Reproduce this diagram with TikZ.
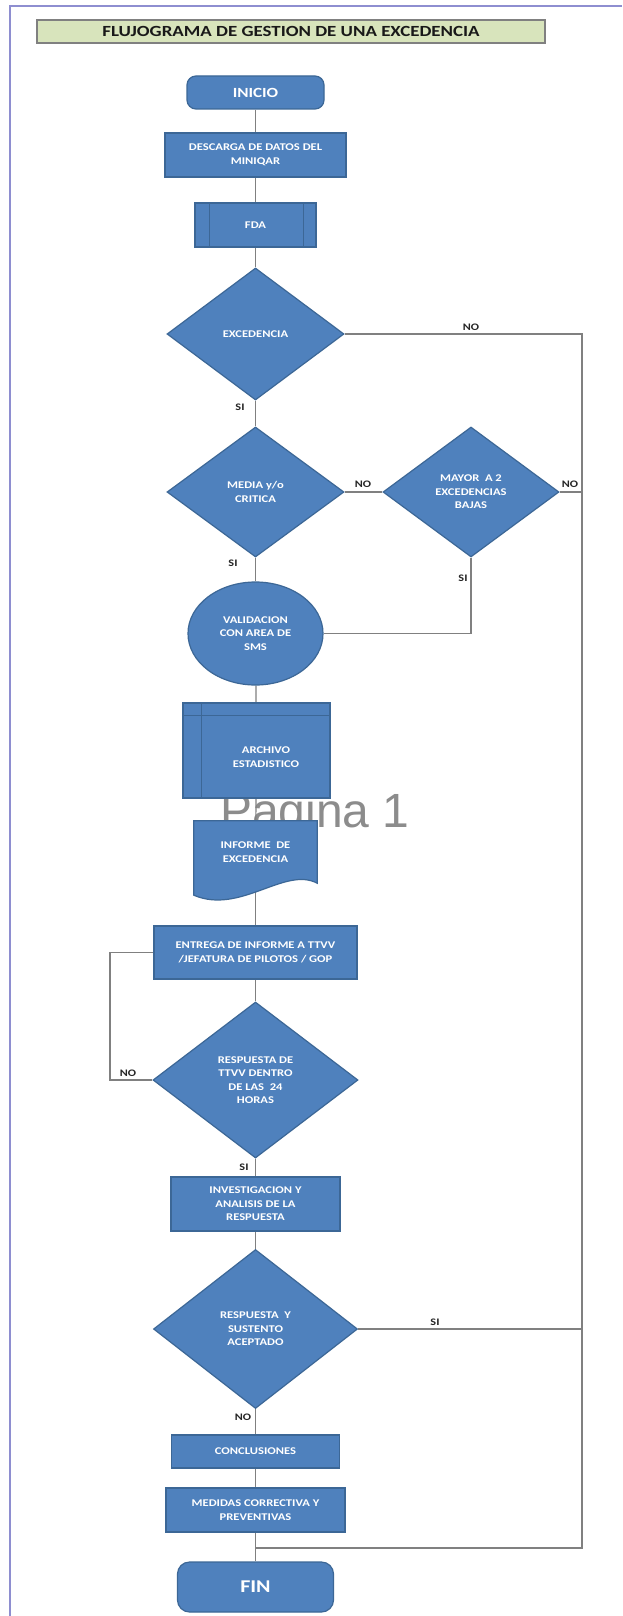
\documentclass[tikz,border=0pt]{standalone}
\usepackage{fontspec}
\setmainfont[FakeStretch=1.22]{Carlito}
\newfontfamily\wmfont{Liberation Sans}
\usetikzlibrary{shapes.geometric}
\pgfdeclarelayer{wm}\pgfdeclarelayer{bg}\pgfdeclarelayer{docl}
\pgfsetlayers{wm,bg,docl,main}
\definecolor{ofblue}{HTML}{4F81BD}
\definecolor{ofedge}{HTML}{3C6796}
\definecolor{titlefill}{HTML}{D8E4BC}
\definecolor{framec}{HTML}{8E8ED0}
\definecolor{conn}{HTML}{808080}
\tikzset{
  shp/.style={draw=ofedge, fill=ofblue, line width=1.2pt, text=white, align=center, inner sep=0pt,
    font=\bfseries\fontsize{10.3}{13.5}\selectfont},
  procbox/.style={shp, rectangle},
  termbox/.style={shp, rectangle, rounded corners=9pt},
  decision/.style={shp, diamond},
  conline/.style={draw=conn, line width=1.2pt},
  lbl/.style={font=\bfseries\fontsize{10}{10}\selectfont, text=black!85, inner sep=0pt},
}
\begin{document}
\begin{tikzpicture}[x=1pt,y=-1pt]
\useasboundingbox (0,0) rectangle (622,1616);
\begin{pgfonlayer}{wm}
\fill[white] (0,0) rectangle (622,1616);
\node[font=\wmfont\fontsize{48}{48}\selectfont, text=black!45, anchor=base west, inner sep=0pt] (pag) at (220,827) {Pagina 1};
\end{pgfonlayer}
% frame
\draw[framec, line width=1.8pt] (10,1616) -- (10,6) -- (622,6);
% title
\node[draw=gray, line width=1.3pt, fill=titlefill, minimum width=508pt, minimum height=23pt, inner sep=0pt,
  font=\bfseries\fontsize{15.5}{15.5}\selectfont, text=black!90] (title) at (291,31.5) {FLUJOGRAMA DE GESTION DE UNA EXCEDENCIA};

% nodes
\node[termbox, minimum width=137pt, minimum height=33pt, font=\bfseries\fontsize{14}{14}\selectfont] (inicio) at (255.5,92.5) {INICIO};
\node[procbox, minimum width=181pt, minimum height=44pt] (descarga) at (255.5,155) {DESCARGA DE DATOS DEL\\MINIQAR};
\node[procbox, minimum width=121pt, minimum height=44pt] (fda) at (255.5,225) {FDA};
\draw[ofedge, line width=1.2pt] ([xshift=15pt]fda.north west) -- ([xshift=15pt]fda.south west);
\draw[ofedge, line width=1.2pt] ([xshift=-13pt]fda.north east) -- ([xshift=-13pt]fda.south east);
\node[decision, minimum width=177pt, minimum height=132pt] (exc) at (255.5,334) {EXCEDENCIA};
\node[decision, minimum width=177pt, minimum height=130pt] (media) at (255.5,492) {MEDIA y/o\\CRITICA};
\node[decision, minimum width=176pt, minimum height=130pt] (mayor) at (471,492) {MAYOR \ A 2\\EXCEDENCIAS\\BAJAS};
\node[shp, ellipse, minimum width=135pt, minimum height=103pt] (valid) at (255.5,633.5) {VALIDACION\\CON AREA DE\\SMS};
\node[procbox, minimum width=147pt, minimum height=95pt] (archivo) at (256.5,750.5) {};
\draw[ofedge, line width=1.2pt] ([xshift=19pt]archivo.north west) -- ([xshift=19pt]archivo.south west);
\draw[ofedge, line width=1.2pt] ([yshift=-13pt]archivo.north west) -- ([yshift=-13pt]archivo.north east);
\node[text=white, align=center, inner sep=0pt, font=\bfseries\fontsize{10.3}{13.5}\selectfont] (archtxt) at (266,757) {ARCHIVO\\ESTADISTICO};
\node[inner sep=0pt, minimum width=123pt, minimum height=62pt, text=white, align=center,
  font=\bfseries\fontsize{10.3}{13.5}\selectfont] (inf) at (255.5,852) {INFORME \ DE\\EXCEDENCIA};
\begin{pgfonlayer}{docl}
\draw[draw=ofedge, fill=ofblue, line width=1.2pt] (inf.south east) -- (inf.north east) -- (inf.north west)
  -- ([yshift=-12pt]inf.south west) .. controls (240,915) and (285,866) .. (inf.south east) -- cycle;
\end{pgfonlayer}
\node[procbox, minimum width=203pt, minimum height=53pt] (entrega) at (255.5,952.5) {ENTREGA DE INFORME A TTVV\\/JEFATURA DE PILOTOS / GOP};
\node[decision, minimum width=205pt, minimum height=156pt] (ttvv) at (255.5,1080) {RESPUESTA DE\\TTVV DENTRO\\DE LAS \ 24\\HORAS};
\node[procbox, minimum width=169pt, minimum height=54pt] (invest) at (255.5,1204) {INVESTIGACION Y\\ANALISIS DE LA\\RESPUESTA};
\node[decision, minimum width=204pt, minimum height=159pt] (sust) at (255.5,1329) {RESPUESTA \ Y\\SUSTENTO\\ACEPTADO};
\node[procbox, minimum width=168pt, minimum height=33pt] (concl) at (255.5,1451.5) {CONCLUSIONES};
\node[procbox, minimum width=179pt, minimum height=44pt] (medidas) at (255.5,1510) {MEDIDAS CORRECTIVA Y\\PREVENTIVAS};
\node[termbox, rounded corners=12pt, minimum width=156pt, minimum height=50pt, font=\bfseries\fontsize{18}{18}\selectfont] (fin) at (255.5,1587) {FIN};

% connectors
\coordinate (rtop) at (582,336);
\coordinate (rbot) at (582,1548);
\coordinate (join) at (255.5,1548);
\coordinate (lx) at (110,1080);
\begin{pgfonlayer}{bg}
\draw[conline] (inicio) -- (descarga);
\draw[conline] (descarga) -- (fda);
\draw[conline] (fda) -- (exc);
\draw[conline] (exc) -- (media);
\draw[conline] (exc.east) -- (exc.east -| rtop) -- (rbot) -- (join);
\draw[conline] (media.east) -- (mayor.west);
\draw[conline] (mayor.east) -- (mayor.east -| rtop);
\draw[conline] (media) -- (valid);
\draw[conline] (mayor.south) |- (valid.east);
\draw[conline] (valid) -- (archivo);
\draw[conline] (archivo) -- (inf);
\draw[conline] (inf) -- (entrega);
\draw[conline] (entrega) -- (ttvv);
\draw[conline] (ttvv.west) -- (lx) |- (entrega.west);
\draw[conline] (ttvv) -- (invest);
\draw[conline] (invest) -- (sust);
\draw[conline] (sust.east) -- (sust.east -| rtop);
\draw[conline] (sust) -- (concl);
\draw[conline] (concl) -- (medidas);
\draw[conline] (medidas) -- (fin);
\end{pgfonlayer}

% labels
\node[lbl] (l1) at (471,327) {NO};
\node[lbl] (l2) at (240,407) {SI};
\node[lbl] (l3) at (363,484) {NO};
\node[lbl] (l4) at (570,484) {NO};
\node[lbl] (l5) at (233,563) {SI};
\node[lbl] (l6) at (463,578) {SI};
\node[lbl] (l7) at (128,1073) {NO};
\node[lbl] (l8) at (244,1167) {SI};
\node[lbl] (l9) at (435,1322) {SI};
\node[lbl] (l10) at (243,1417) {NO};
\end{tikzpicture}
\end{document}
